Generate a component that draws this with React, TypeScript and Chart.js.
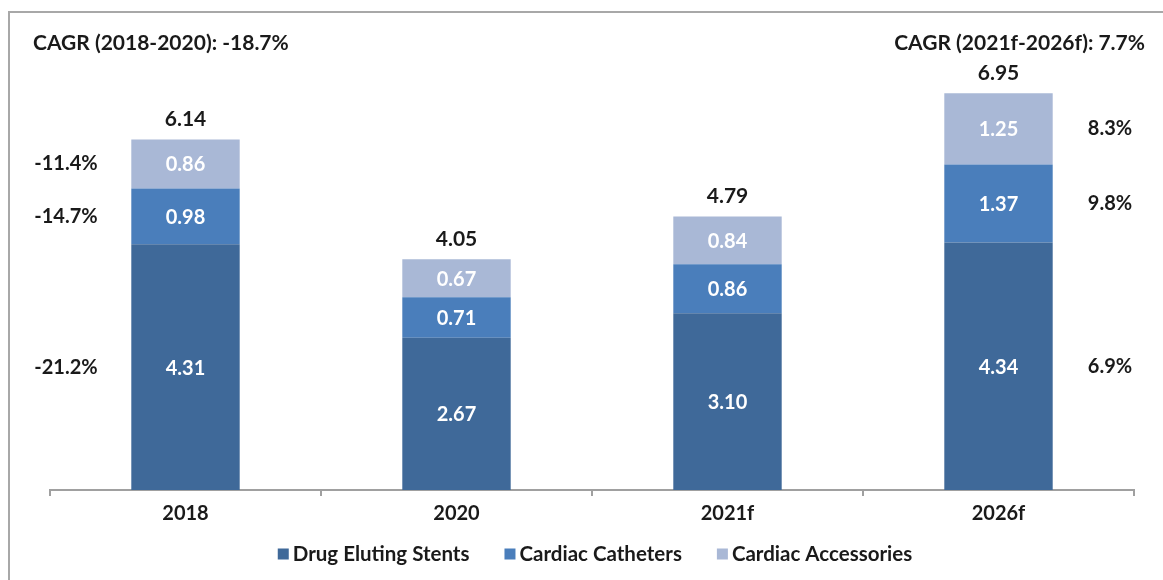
import React, { useEffect, useRef } from "react";
import { Chart, registerables } from "chart.js";

Chart.register(...registerables);

const categories = ["2018", "2020", "2021f", "2026f"];
const seriesNames = ["Drug Eluting Stents", "Cardiac Catheters", "Cardiac Accessories"];
const drugElutingStents = [4.31, 2.67, 3.1, 4.34];
const cardiacCatheters = [0.98, 0.71, 0.86, 1.37];
const cardiacAccessories = [0.86, 0.67, 0.84, 1.25];
const totals = [6.14, 4.05, 4.79, 6.95];
const cagrLeftTitle = "CAGR (2018-2020): -18.7%";
const cagrRightTitle = "CAGR (2021f-2026f): 7.7%";
const cagrLeftBySeries = ["-21.2%", "-14.7%", "-11.4%"];
const cagrRightBySeries = ["6.9%", "9.8%", "8.3%"];

const colors = ["#3F6999", "#4A7EBB", "#A9B8D6"];
const FONT = "Lato, 'Open Sans', sans-serif";
const TEXT = "#1a1a1a";

const annotationPlugin = {
  id: "annotations",
  beforeDraw(chart: any) {
    const ctx = chart.ctx;
    ctx.save();
    ctx.fillStyle = "#ffffff";
    ctx.fillRect(0, 0, chart.width, chart.height);
    ctx.strokeStyle = "#a8a8a8";
    ctx.lineWidth = 2;
    ctx.beginPath();
    ctx.moveTo(9, chart.height);
    ctx.lineTo(9, 12);
    ctx.lineTo(chart.width, 12);
    ctx.stroke();
    ctx.restore();
  },
  afterDatasetsDraw(chart: any) {
    const ctx = chart.ctx;
    ctx.save();
    ctx.textAlign = "center";
    ctx.textBaseline = "middle";
    // values inside segments
    ctx.font = `bold 20px ${FONT}`;
    ctx.fillStyle = "#ffffff";
    chart.data.datasets.forEach((ds: any, i: number) => {
      const meta = chart.getDatasetMeta(i);
      meta.data.forEach((el: any, j: number) => {
        const v = ds.data[j];
        ctx.fillText(Number(v).toFixed(2), el.x, (el.y + el.base) / 2 + 1);
      });
    });
    // totals
    ctx.fillStyle = TEXT;
    ctx.font = `bold 21px ${FONT}`;
    const topMeta = chart.getDatasetMeta(chart.data.datasets.length - 1);
    topMeta.data.forEach((el: any, j: number) => {
      ctx.fillText(totals[j].toFixed(2), el.x, el.y - 20);
    });
    // CAGR per series
    ctx.font = `bold 20px ${FONT}`;
    chart.data.datasets.forEach((ds: any, i: number) => {
      const meta = chart.getDatasetMeta(i);
      const first = meta.data[0];
      const last = meta.data[meta.data.length - 1];
      ctx.fillText(cagrLeftBySeries[i], 66, (first.y + first.base) / 2);
      ctx.fillText(cagrRightBySeries[i], 1110, (last.y + last.base) / 2);
    });
    // titles
    ctx.font = `bold 21px ${FONT}`;
    ctx.textAlign = "left";
    ctx.fillText(cagrLeftTitle, 33, 43);
    ctx.textAlign = "right";
    ctx.fillText(cagrRightTitle, 1145, 43);

    // legend
    ctx.font = `bold 20.5px ${FONT}`;
    ctx.textAlign = "left";
    const box = 11;
    const gapText = 4;
    const gapItem = 35;
    const widths = seriesNames.map((n) => box + gapText + ctx.measureText(n).width);
    const total = widths.reduce((a, b) => a + b, 0) + gapItem * (seriesNames.length - 1);
    let x = 595 - total / 2;
    const ly = 554;
    seriesNames.forEach((n, i) => {
      ctx.fillStyle = colors[i];
      ctx.fillRect(x, ly - box / 2, box, box);
      ctx.fillStyle = TEXT;
      ctx.fillText(n, x + box + gapText, ly);
      x += widths[i] + gapItem;
    });
    ctx.restore();
  },
};

export default function App() {
  const ref = useRef<HTMLCanvasElement | null>(null);
  useEffect(() => {
    if (!ref.current) return;
    const chart = new Chart(ref.current, {
      type: "bar",
      data: {
        labels: categories,
        datasets: [
          { label: seriesNames[0], data: drugElutingStents, backgroundColor: colors[0] },
          { label: seriesNames[1], data: cardiacCatheters, backgroundColor: colors[1] },
          { label: seriesNames[2], data: cardiacAccessories, backgroundColor: colors[2] },
        ],
      },
      options: {
        animation: false,
        responsive: false,
        maintainAspectRatio: false,
        layout: { padding: { left: 50, right: 29, top: 34, bottom: 48 } },
        datasets: { bar: { barPercentage: 0.4, categoryPercentage: 1, borderWidth: 0 } },
        plugins: {
          tooltip: { enabled: false },
          legend: { display: false },
        },
        scales: {
          x: {
            stacked: true,
            border: { color: "#a0a0a0", width: 2 },
            grid: { drawOnChartArea: false, drawTicks: true, tickLength: 6, color: "#a0a0a0", lineWidth: 2 },
            ticks: { color: TEXT, padding: 6, font: { family: FONT, size: 20, weight: "bold" } },
          },
          y: {
            stacked: true,
            display: false,
            min: 0,
            max: 8,
          },
        },
      },
      plugins: [annotationPlugin],
    });
    return () => chart.destroy();
  }, []);
  return (
    <div style={{ position: "fixed", left: 0, top: 0, width: 1163, height: 580 }}>
      <canvas ref={ref} width={1163} height={580} style={{ display: "block", width: 1163, height: 580 }} />
    </div>
  );
}
